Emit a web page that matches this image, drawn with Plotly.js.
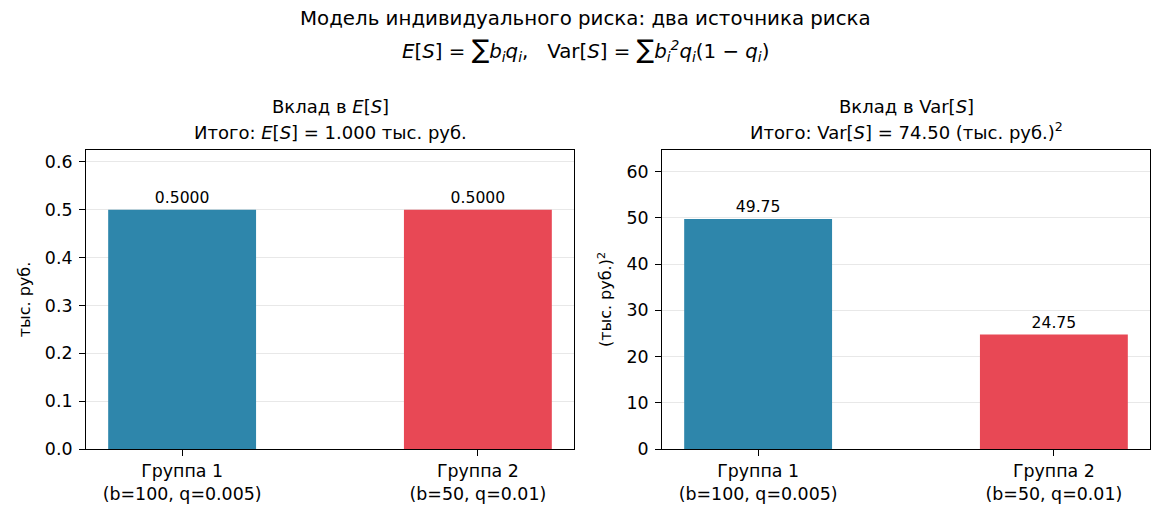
<!DOCTYPE html>
<html><head><meta charset="utf-8">
<script src="https://cdn.plot.ly/plotly-3.0.1.min.js"></script>
<style>body{margin:0;background:#fff}#c{width:1170px;height:520px}</style>
</head><body><div id="c"></div>
<script>
const categories = ['Группа 1<br>(b=100, q=0.005)', 'Группа 2<br>(b=50, q=0.01)'];
const meanContrib = [0.5, 0.5];
const varContrib = [49.75, 24.75];
const meanLabels = ['0.5000', '0.5000'];
const varLabels = ['49.75', '24.75'];
const barColors = ['#2E86AB', '#E84855'];

const F = 'DejaVu Sans, sans-serif';
const xIdx = [0, 1];
function bar(y, txt, xa, ya) {
  return {type: 'bar', x: xIdx, y: y, xaxis: xa, yaxis: ya, width: 0.5,
    marker: {color: barColors}, text: txt, textposition: 'outside',
    textfont: {family: F, size: 15.6, color: '#000'}, cliponaxis: false,
    hoverinfo: 'skip', showlegend: false};
}
const data = [bar(meanContrib, meanLabels, 'x', 'y'), bar(varContrib, varLabels, 'x2', 'y2')];
const axCommon = {showline: true, mirror: true, linecolor: '#000', linewidth: 1, ticks: 'outside',
  ticklen: 6, tickcolor: '#000', tickfont: {family: F, size: 17.4, color: '#000'}, zeroline: false};
const xBase = Object.assign({}, axCommon, {tickvals: xIdx, ticktext: categories, range: [-0.325, 1.325], showgrid: false});
function ann(text, x, y, size) {
  return {text: text, x: x / 1170, y: 1 - y / 520, xref: 'paper', yref: 'paper',
    xanchor: 'center', yanchor: 'middle', showarrow: false, font: {family: F, size: size, color: '#000'}};
}
const SUM = '<span style="font-size:26px">∑</span>';
const layout = {
  width: 1170, height: 520, paper_bgcolor: '#fff', plot_bgcolor: '#fff',
  margin: {l: 0, r: 0, t: 0, b: 0},
  font: {family: F, color: '#000'},
  xaxis: Object.assign({}, xBase, {domain: [86/1170, 574/1170], anchor: 'y'}),
  xaxis2: Object.assign({}, xBase, {domain: [662/1170, 1150/1170], anchor: 'y2'}),
  yaxis: Object.assign({}, axCommon, {domain: [71/520, 370/520], range: [0, 0.625], dtick: 0.1, tickformat: '.1f',
    showgrid: true, gridcolor: '#e8e8e8', anchor: 'x', ticklabelstandoff: 3,
    title: {text: 'тыс. руб.', font: {family: F, size: 16, color: '#000'}, standoff: 10}}),
  yaxis2: Object.assign({}, axCommon, {domain: [71/520, 370/520], range: [0, 64.675], dtick: 10,
    showgrid: true, gridcolor: '#e8e8e8', anchor: 'x2', ticklabelstandoff: 3,
    title: {text: '(тыс. руб.)<sup>2</sup>', font: {family: F, size: 16, color: '#000'}, standoff: 10}}),
  annotations: [
    ann('Модель индивидуального риска: два источника риска', 585, 19, 19.8),
    ann('<i>E</i>[<i>S</i>] = ' + SUM + '<i>b<sub>i</sub>q<sub>i</sub></i>,   Var[<i>S</i>] = ' + SUM + '<i>b<sub>i</sub><sup>2</sup>q<sub>i</sub></i>(1 − <i>q<sub>i</sub></i>)', 585, 49, 19.8),
    ann('Вклад в <i>E</i>[<i>S</i>]', 330, 107, 18),
    ann('Итого: <i>E</i>[<i>S</i>] = 1.000 тыс. руб.', 330, 132, 18),
    ann('Вклад в Var[<i>S</i>]', 906, 107, 18),
    ann('Итого: Var[<i>S</i>] = 74.50 (тыс. руб.)<sup>2</sup>', 906, 131, 18)
  ]
};
Plotly.newPlot('c', data, layout, {displayModeBar: false, staticPlot: true});
</script></body></html>
